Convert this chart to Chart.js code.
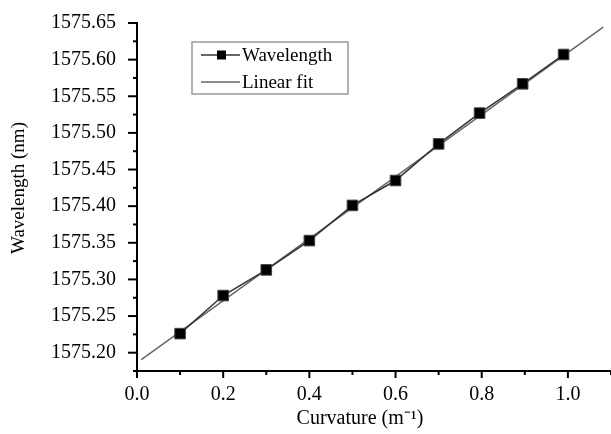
<!DOCTYPE html>
<html>
<head>
<meta charset="utf-8">
<script src="https://cdn.jsdelivr.net/npm/chart.js@4"></script>
<style>
  html, body { margin: 0; padding: 0; background: #fff; }
  #wrap { width: 611px; height: 434px; }
</style>
</head>
<body>
<div id="wrap"><canvas id="curvChart" width="611" height="434"></canvas></div>
<script>
// measured points
const curvature = [0.1, 0.2, 0.3, 0.4, 0.5, 0.6, 0.7, 0.795, 0.895, 0.99];
const wavelength = [1575.226, 1575.278, 1575.313, 1575.353, 1575.401, 1575.435, 1575.485, 1575.527, 1575.567, 1575.607];
// linear fit end points
const fitX = [0.01, 1.082];
const fitY = [1575.1905, 1575.6445];

// axis ticks (labelled ones listed separately)
const xTicks = [0, 0.1, 0.2, 0.3, 0.4, 0.5, 0.6, 0.7, 0.8, 0.9, 1.0, 1.1];
const xLabels = ['0.0', '0.2', '0.4', '0.6', '0.8', '1.0'];
const yTicks = [1575.175, 1575.2, 1575.225, 1575.25, 1575.275, 1575.3, 1575.325, 1575.35, 1575.375, 1575.4,
  1575.425, 1575.45, 1575.475, 1575.5, 1575.525, 1575.55, 1575.575, 1575.6, 1575.625, 1575.65];
const yLabels = ['1575.20', '1575.25', '1575.30', '1575.35', '1575.40', '1575.45', '1575.50', '1575.55', '1575.60', '1575.65'];

const xTitle = 'Curvature (m\u207B\u00B9)';
const yTitle = 'Wavelength (nm)';

const serif = "'Liberation Serif', 'Times New Roman', serif";

const xLabel = v => xLabels.includes(v.toFixed(1)) ? v.toFixed(1) : '';
const yLabel = v => yLabels.includes(v.toFixed(2)) ? v.toFixed(2) : '';

// outward major / minor ticks
const tickMarks = {
  id: 'tickMarks',
  afterDraw(chart) {
    const { ctx, scales: { x, y } } = chart;
    ctx.save();
    ctx.strokeStyle = '#000';
    ctx.lineWidth = 2;
    x.ticks.forEach(t => {
      const px = x.getPixelForValue(t.value);
      const len = xLabel(t.value) ? 7 : 4;
      ctx.beginPath();
      ctx.moveTo(px, x.top);
      ctx.lineTo(px, x.top + len);
      ctx.stroke();
    });
    y.ticks.forEach(t => {
      const py = y.getPixelForValue(t.value);
      const len = yLabel(t.value) ? 9 : 4;
      ctx.beginPath();
      ctx.moveTo(y.right, py);
      ctx.lineTo(y.right - len, py);
      ctx.stroke();
    });
    ctx.restore();
  }
};

// axis titles, sitting a little left of / above the axis centres as in the figure
const axisTitles = {
  id: 'axisTitles',
  afterDraw(chart) {
    const { ctx, chartArea: a } = chart;
    ctx.save();
    ctx.fillStyle = '#000';
    ctx.textAlign = 'center';
    ctx.textBaseline = 'middle';
    ctx.font = '20px ' + serif;
    ctx.fillText(xTitle, (a.left + a.right) / 2 - 14, 419);
    ctx.translate(19.5, (a.top + a.bottom) / 2 - 9);
    ctx.rotate(-Math.PI / 2);
    ctx.font = '19px ' + serif;
    ctx.fillText(yTitle, 0, 0);
    ctx.restore();
  }
};

// legend box inside the plot
const boxLegend = {
  id: 'boxLegend',
  afterDraw(chart) {
    const ctx = chart.ctx;
    const left = 192, top = 42, w = 156, h = 52;
    ctx.save();
    ctx.strokeStyle = '#999';
    ctx.lineWidth = 1.5;
    ctx.strokeRect(left, top, w, h);
    ctx.font = '19px ' + serif;
    ctx.textBaseline = 'middle';
    chart.data.datasets.forEach((ds, i) => {
      const cy = top + 13 + i * 27;
      ctx.strokeStyle = ds.borderColor;
      ctx.lineWidth = 1.5;
      ctx.beginPath();
      ctx.moveTo(left + 9, cy);
      ctx.lineTo(left + 48, cy);
      ctx.stroke();
      if (ds.pointRadius > 0) {
        ctx.fillStyle = ds.pointBackgroundColor;
        ctx.fillRect(left + 25, cy - 4.5, 9, 9);
      }
      ctx.fillStyle = '#000';
      ctx.fillText(ds.label, left + 50, cy + 1);
    });
    ctx.restore();
  }
};

new Chart(document.getElementById('curvChart'), {
  type: 'line',
  data: {
    datasets: [{
      label: 'Wavelength',
      data: curvature.map((c, i) => ({ x: c, y: wavelength[i] })),
      borderColor: '#333',
      borderWidth: 1.5,
      pointStyle: 'rect',
      pointRadius: 7.5,
      pointBackgroundColor: '#000',
      pointBorderColor: '#444',
      pointBorderWidth: 1,
      tension: 0,
      order: 0
    }, {
      label: 'Linear fit',
      data: fitX.map((c, i) => ({ x: c, y: fitY[i] })),
      borderColor: '#666',
      borderWidth: 1.5,
      pointRadius: 0,
      tension: 0,
      order: 1
    }]
  },
  options: {
    responsive: false,
    animation: false,
    layout: { autoPadding: false, padding: { top: 23, right: 0, left: 0, bottom: 0 } },
    plugins: {
      legend: { display: false },
      tooltip: { enabled: false }
    },
    scales: {
      x: {
        type: 'linear',
        min: 0,
        max: 1.1,
        afterFit: s => { s.height = 63; s.paddingLeft = 0; s.paddingRight = 0; },
        afterBuildTicks: s => { s.ticks = xTicks.map(v => ({ value: v })); },
        border: { display: true, color: '#000', width: 2 },
        grid: { display: false, drawTicks: false },
        ticks: {
          padding: 12,
          color: '#000',
          font: { family: serif, size: 20 },
          maxRotation: 0,
          autoSkip: false,
          callback: xLabel
        }
      },
      y: {
        min: 1575.175,
        max: 1575.65,
        afterFit: s => { s.width = 137; s.paddingTop = 0; s.paddingBottom = 0; },
        afterBuildTicks: s => { s.ticks = yTicks.map(v => ({ value: v })); },
        border: { display: true, color: '#000', width: 2 },
        grid: { display: false, drawTicks: false },
        ticks: {
          padding: 21,
          color: '#000',
          font: { family: serif, size: 20 },
          autoSkip: false,
          callback: yLabel
        }
      }
    }
  },
  plugins: [tickMarks, axisTitles, boxLegend]
});
</script>
</body>
</html>
